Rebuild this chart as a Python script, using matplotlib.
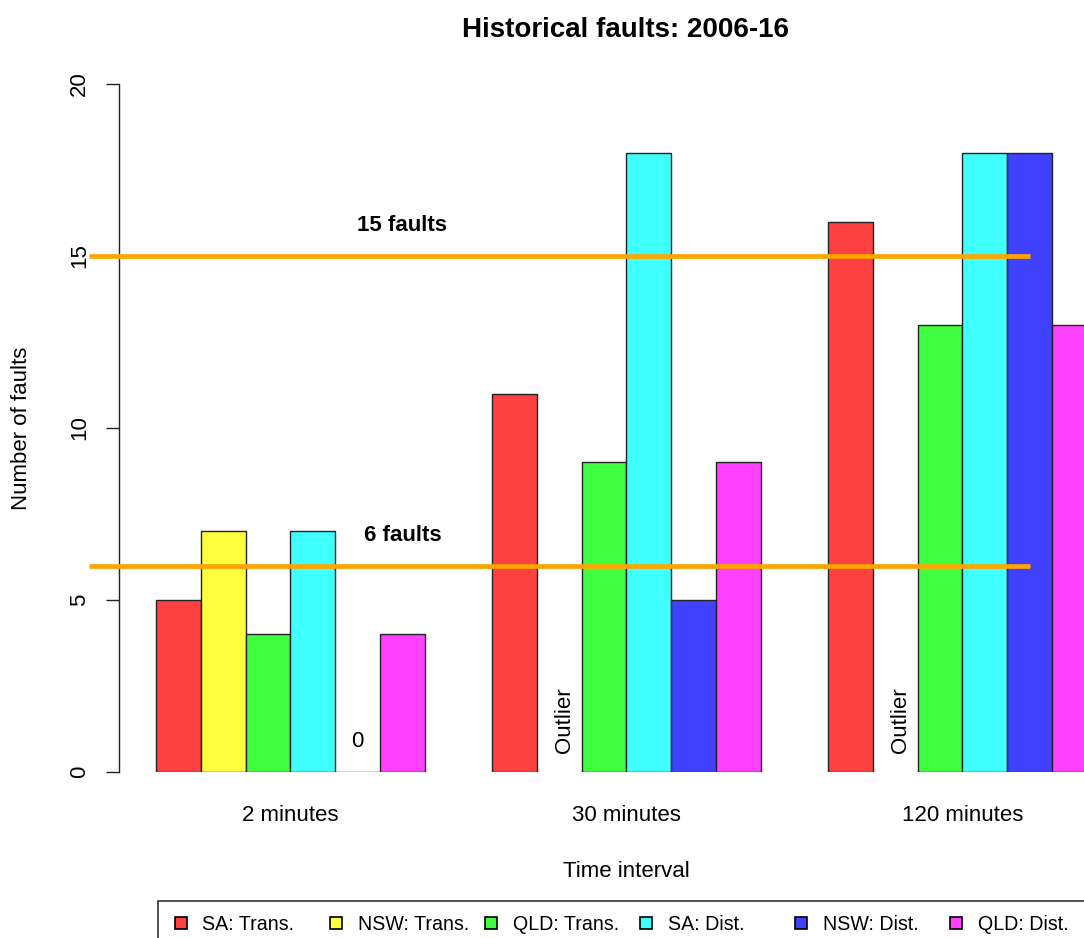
import numpy as np
import matplotlib
matplotlib.use("Agg")
import matplotlib.pyplot as plt
from matplotlib.patches import Rectangle
import matplotlib.transforms as mtransforms

# ---------------- data ----------------
groups = ["2 minutes", "30 minutes", "120 minutes"]
series_labels = ["SA: Trans.", "NSW: Trans.", "QLD: Trans.", "SA: Dist.", "NSW: Dist.", "QLD: Dist."]
sa_trans = [5, 11, 16]
nsw_trans = [7, np.nan, np.nan]   # outliers not shown
qld_trans = [4, 9, 13]
sa_dist = [7, 18, 18]
nsw_dist = [0, 5, 18]
qld_dist = [4, 9, 13]
series_colors = ["#FF4040", "#FFFF40", "#40FF40", "#40FFFF", "#4040FF", "#FF40FF"]
thresholds = [15, 6]
threshold_labels = ["15 faults", "6 faults"]
yticks = [0, 5, 10, 15, 20]

series = [sa_trans, nsw_trans, qld_trans, sa_dist, nsw_dist, qld_dist]

# ---------------- layout ----------------
W, H = 1084, 938
fig = plt.figure(figsize=(W / 100, H / 100), dpi=100)
plt.rcParams['font.family'] = ['Liberation Sans', 'DejaVu Sans']

x0_px, bw_px = 88.8, 44.8          # pixel of x=0 and width of one bar unit
ax_left, ax_right = 118.5, 1084.0
ax_top, ax_bottom = 84.0, 772.0
ax = fig.add_axes([ax_left / W, 1 - ax_bottom / H, (ax_right - ax_left) / W, (ax_bottom - ax_top) / H])
ax.set_xlim((ax_left - x0_px) / bw_px, (ax_right - x0_px) / bw_px)
ax.set_ylim(0, 20)

space = 1.5
nser = len(series)
group_starts = [space + g * (nser + space) for g in range(len(groups))]

for i, (vals, col) in enumerate(zip(series, series_colors)):
    xs, hs = [], []
    for g, v in enumerate(vals):
        if not np.isnan(v):
            xs.append(group_starts[g] + i + 0.5)
            hs.append(v)
    ax.bar(xs, hs, width=1.0, color=col, edgecolor="#222222", linewidth=1.0, zorder=2)

# offset to mimic R's vertical text centring
down = mtransforms.offset_copy(ax.transData, fig=fig, x=0, y=-4, units="dots")

# threshold lines
xmax_line = group_starts[-1] + 4.5
for t, lab in zip(thresholds, threshold_labels):
    ax.hlines(t, 0, xmax_line, colors="#FFA500", linewidth=3.4, zorder=3, clip_on=False)
    ax.text(7, t + 1, lab, ha="center", va="center", fontsize=16, fontweight="bold", zorder=4,
            transform=down)

# annotations
ax.text(group_starts[0] + 4 + 0.5, 1, "0", ha="center", va="center", fontsize=16, transform=down)
off = mtransforms.offset_copy(ax.transData, fig=fig, x=5, y=0, units="dots")
for g in (1, 2):
    ax.text(group_starts[g] + 1 + 0.5, 1.5, "Outlier", rotation=90, ha="center", va="center",
            rotation_mode="anchor", fontsize=16, transform=off)

# axes styling
for s in ["top", "right", "bottom"]:
    ax.spines[s].set_visible(False)
ax.spines["left"].set_bounds(0, 20)
ax.spines["left"].set_linewidth(1.0)
ax.spines["left"].set_color("#222222")
ax.set_yticks(yticks)
ax.set_yticklabels([str(v) for v in yticks], rotation=90, va="center", fontsize=16)
ax.tick_params(axis="y", length=9.5, width=1.0, color="#222222", pad=11)
ax.set_xticks([s + nser / 2 for s in group_starts])
ax.set_xticklabels(groups, fontsize=16)
ax.tick_params(axis="x", length=0, pad=24)

ax.set_xlabel("Time interval", fontsize=16, va="center")
ax.xaxis.set_label_coords((626 - ax_left) / (ax_right - ax_left), (ax_bottom - 871) / (ax_bottom - ax_top))
ax.set_ylabel("Number of faults", fontsize=16, va="center")
ax.yaxis.set_label_coords((22 - ax_left) / (ax_right - ax_left), 0.5)
ax.set_title("Historical faults: 2006-16", fontsize=20, fontweight="bold", va="center",
             x=(626 - ax_left) / (ax_right - ax_left), y=(ax_bottom - 30) / (ax_bottom - ax_top), pad=0)

# legend (R-style horizontal, evenly spaced)
def fpx(x, y):
    return x / W, 1 - y / H

fx, fy = fpx(157.5, 900.5)
fig.add_artist(Rectangle((fx, fy - 80 / H), (1200 - 157.5) / W, 80 / H, transform=fig.transFigure,
                         facecolor="none", edgecolor="#333333", linewidth=1.2, clip_on=False))
leg_x0, leg_dx, leg_y = 180.5, 155.1, 922.5
sq = 12
for i, (lab, col) in enumerate(zip(series_labels, series_colors)):
    cx = leg_x0 + i * leg_dx
    rx, ry = fpx(cx - sq / 2, leg_y + sq / 2)
    fig.add_artist(Rectangle((rx, ry), sq / W, sq / H, transform=fig.transFigure,
                             facecolor=col, edgecolor="black", linewidth=1.2))
    tx, ty = fpx(cx + 22, leg_y + 1.5)
    fig.text(tx, ty, lab, ha="left", va="center", fontsize=14.1)

fig.savefig("out.png", dpi=100)
